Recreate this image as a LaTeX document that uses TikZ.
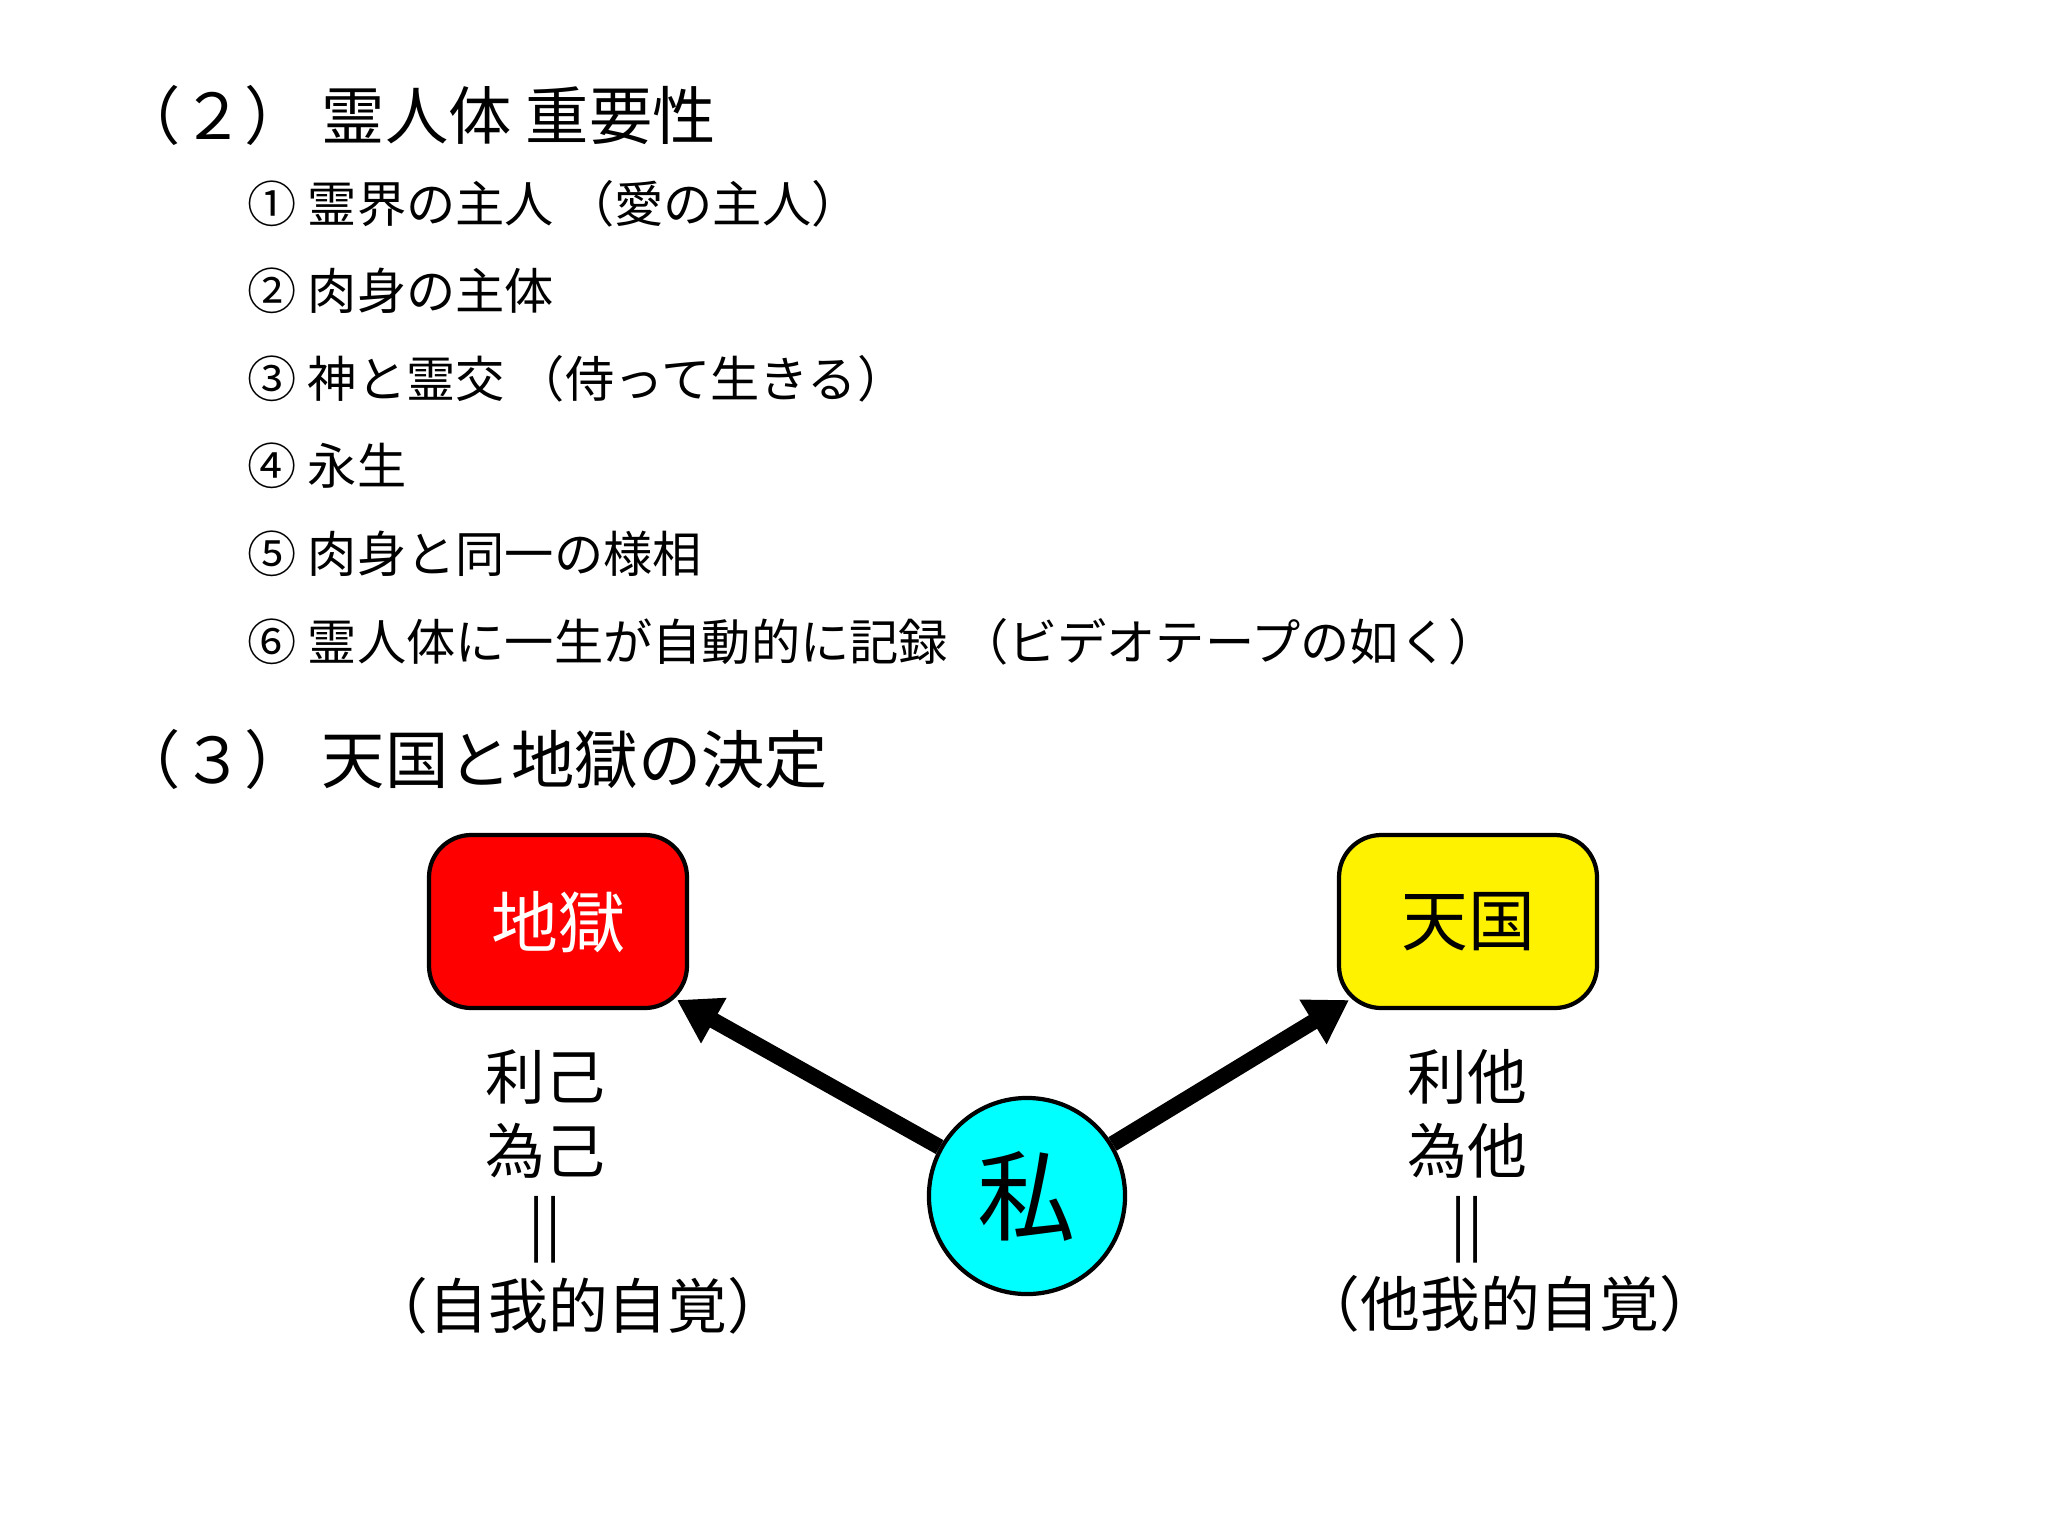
\documentclass[tikz,border=0pt]{standalone}
\usepackage{fontspec}
\setmainfont{Noto Sans CJK JP}
\usetikzlibrary{arrows.meta}
\definecolor{aqua}{RGB}{0,255,255}
\begin{document}
\begin{tikzpicture}[x=0.01cm,y=-0.01cm,
  item/.style={anchor=west,font=\fontsize{14}{16}\selectfont,inner sep=0},
  head/.style={anchor=west,font=\fontsize{18}{20}\selectfont,inner sep=0},
  side/.style={font=\fontsize{17}{20}\selectfont,inner sep=0},
  arr/.style={line width=4.5pt,-{Triangle[length=12pt,width=14pt]}}]
\useasboundingbox (0,0) rectangle (2048,1536);
\node[head] (h2) at (117,115) {（２）\ 霊人体 重要性};
\node[item] (i1) at (247,204) {① 霊界の主人\ （愛の主人）};
\node[item] (i2) at (247,291) {② 肉身の主体};
\node[item] (i3) at (247,379) {③ 神と霊交\ （侍って生きる）};
\node[item] (i4) at (247,466) {④ 永生};
\node[item] (i5) at (247,554) {⑤ 肉身と同一の様相};
\node[item] (i6) at (247,642) {⑥ 霊人体に一生が自動的に記録\ （ビデオテープの如く）};
\node[head] (h3) at (117,759) {（３）\ 天国と地獄の決定};
\draw[fill=red,line width=1.2pt,rounded corners=12pt] (429,835) rectangle (687,1008);
\node[text=white,font=\fontsize{19}{22}\selectfont] (hell) at (558,922) {地獄};
\draw[fill=yellow,line width=1.2pt,rounded corners=12pt] (1339,835) rectangle (1597,1008);
\node[font=\fontsize{19}{22}\selectfont] (heaven) at (1468,922) {天国};
\coordinate (hc) at (677,1000);
\coordinate (tc) at (1349,1000);
\node[circle,draw,line width=1.2pt,fill=aqua,inner sep=0,minimum size=1.96cm,font=\fontsize{28}{30}\selectfont] (me) at (1027,1196) {私};
\draw[arr] (me) -- (hc);
\draw[arr] (me) -- (tc);
\node[side] (l1) at (545,1077) {利己};
\node[side] (l2) at (545,1151) {為己};
\node[side] (l3) at (545,1230) {||};
\node[side] (l4) at (578,1306) {（自我的自覚）};
\node[side] (r1) at (1467,1077) {利他};
\node[side] (r2) at (1467,1151) {為他};
\node[side] (r3) at (1467,1230) {||};
\node[side] (r4) at (1510,1304) {（他我的自覚）};
\end{tikzpicture}
\end{document}
